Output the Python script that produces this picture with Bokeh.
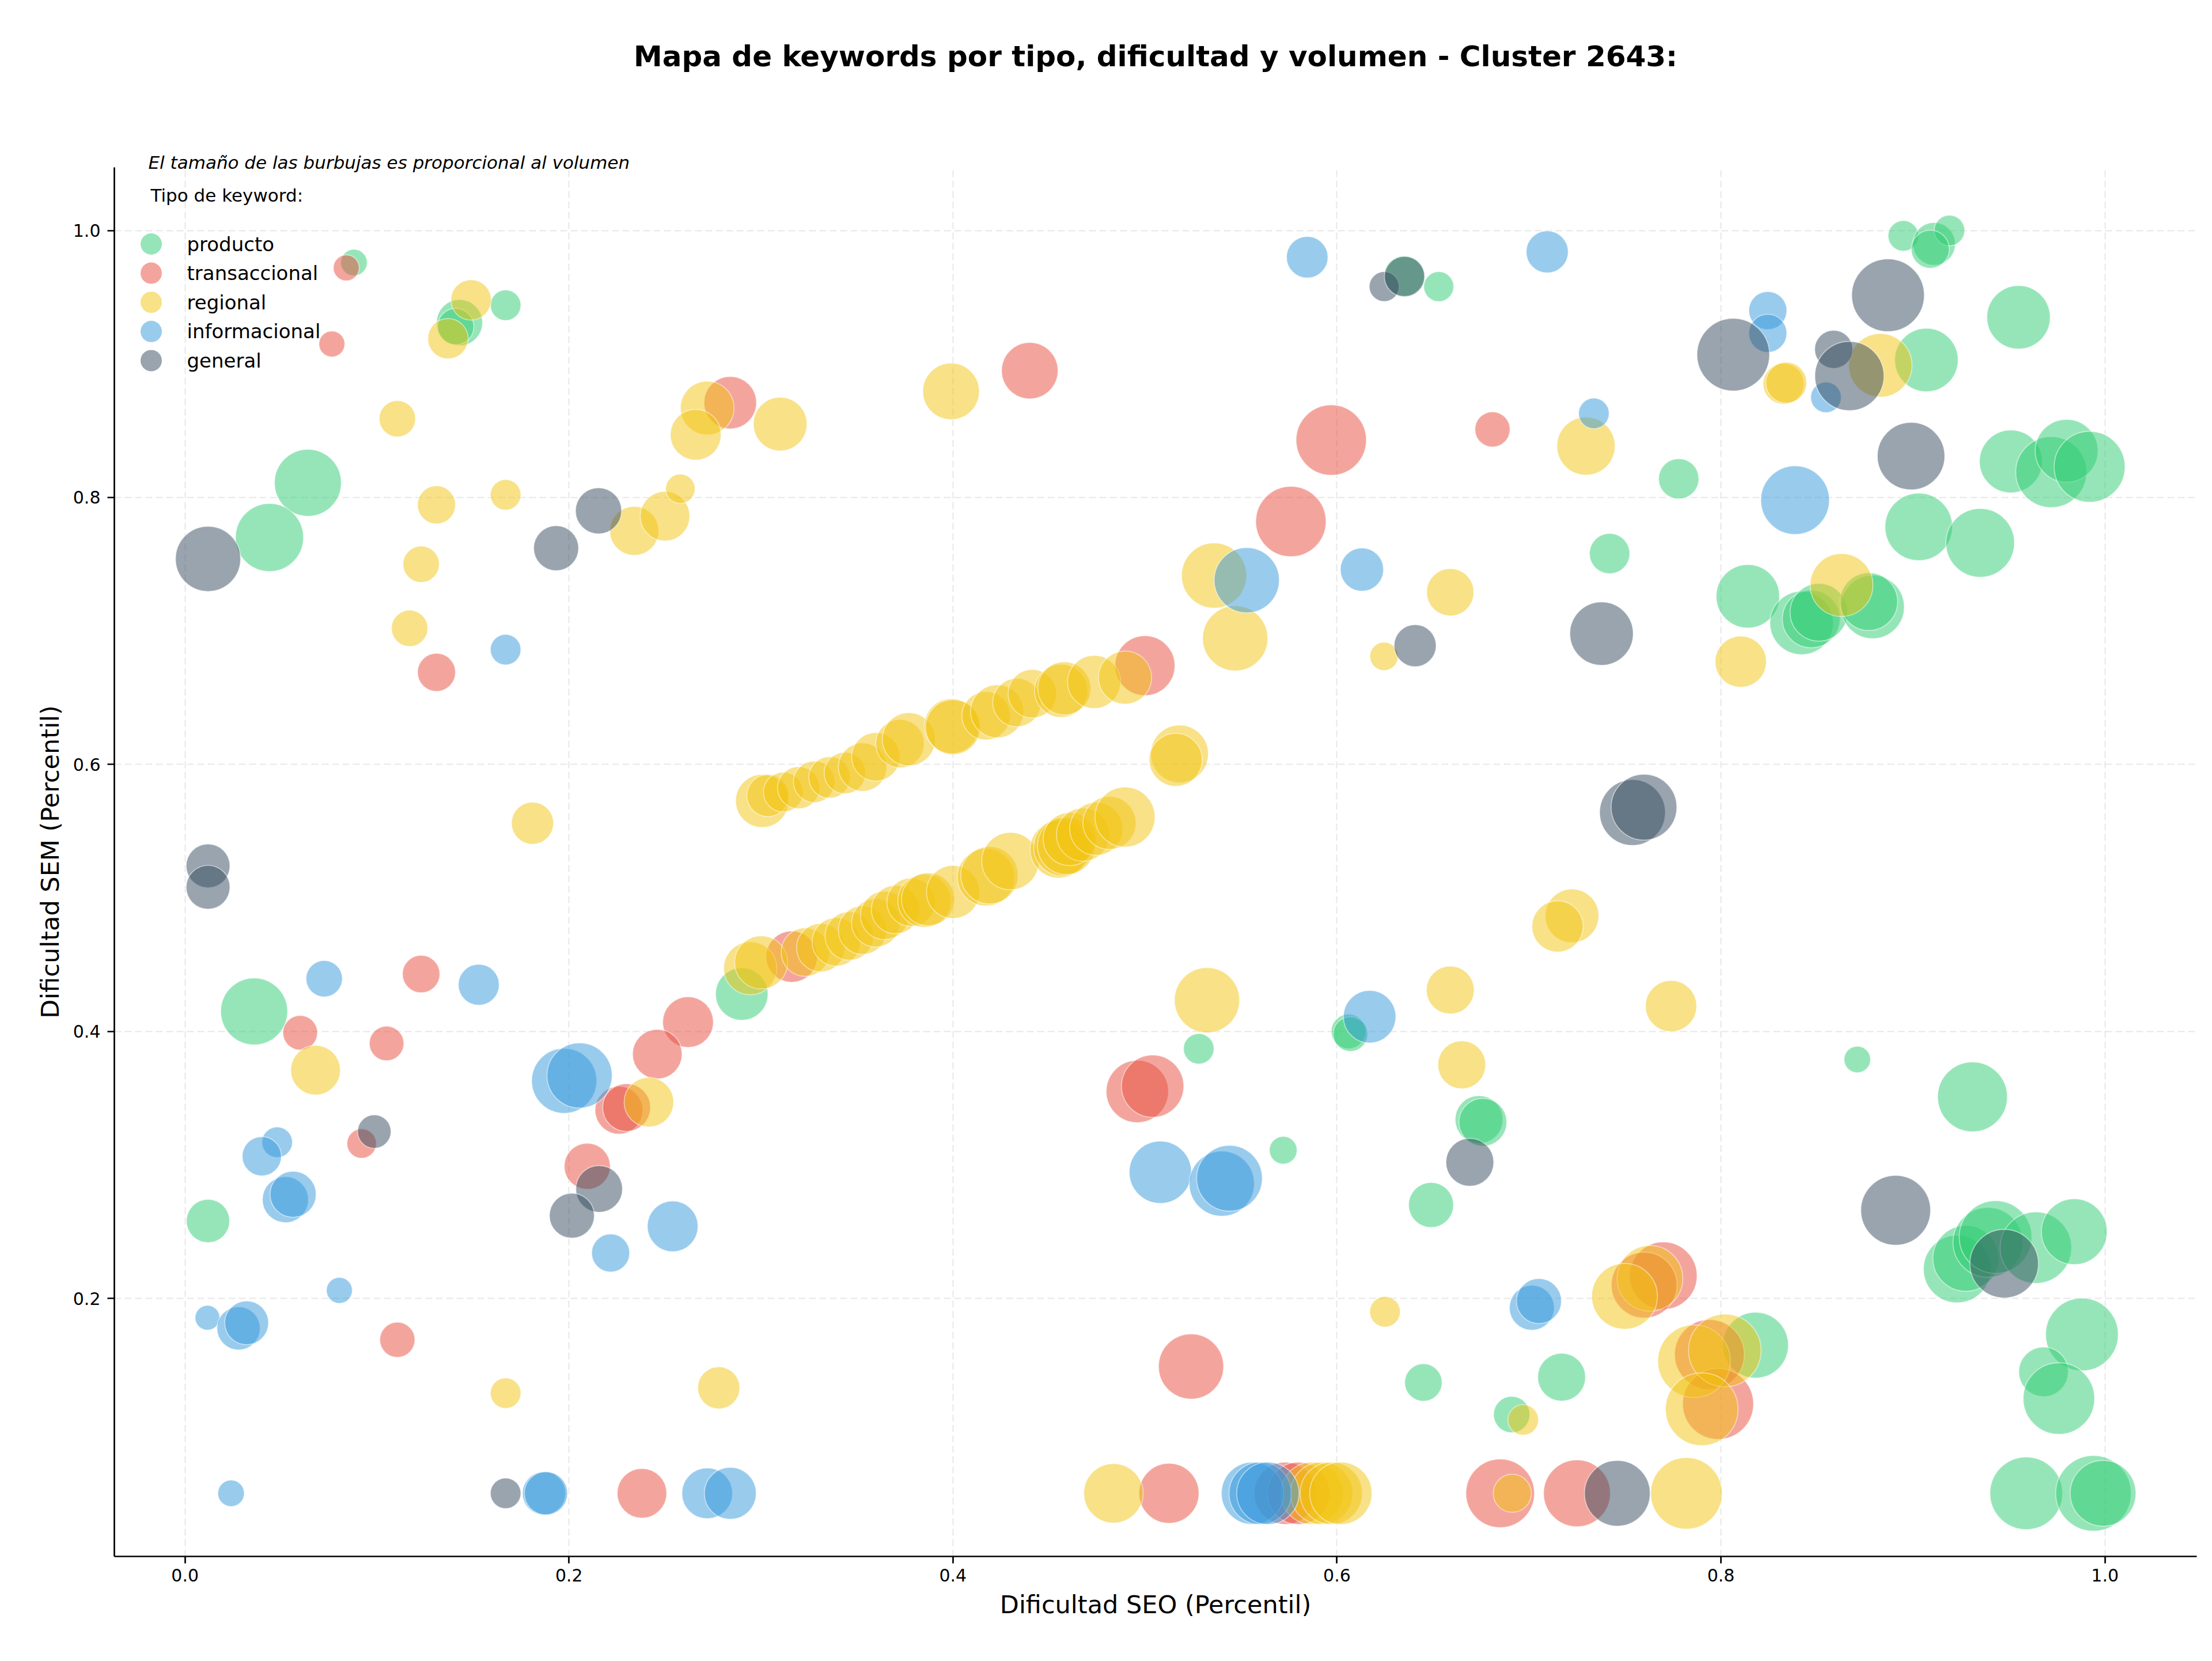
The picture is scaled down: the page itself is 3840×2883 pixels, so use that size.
import numpy as np
from bokeh.plotting import figure
from bokeh.models import Range1d, FixedTicker, PrintfTickFormatter, Label, Title
from bokeh.embed import file_html
from bokeh.resources import INLINE

# (dificultad SEO, dificultad SEM, volumen) per keyword type
producto = [
    (0.088, 0.976, 235), (0.167, 0.944, 312), (0.143, 0.931, 711), (0.141, 0.928, 441),
    (0.064, 0.811, 1495), (0.044, 0.770, 1547), (0.036, 0.415, 1495), (0.012, 0.258, 625),
    (0.290, 0.428, 920), (0.528, 0.387, 312), (0.572, 0.311, 256), (0.606, 0.400, 400),
    (0.607, 0.398, 400), (0.674, 0.334, 765), (0.676, 0.332, 765), (0.649, 0.270, 676),
    (0.645, 0.137, 469), (0.717, 0.141, 765), (0.691, 0.113, 441), (0.818, 0.165, 1444),
    (0.871, 0.379, 235), (0.931, 0.351, 1627), (0.923, 0.222, 1521), (0.9275, 0.230, 1444),
    (0.939, 0.242, 1627), (0.943, 0.246, 1764), (0.964, 0.238, 1708), (0.984, 0.250, 1444),
    (0.988, 0.173, 1764), (0.968, 0.145, 822), (0.976, 0.125, 1708), (0.959, 0.054, 1764),
    (0.994, 0.054, 1907), (0.999, 0.054, 1444), (0.895, 0.996, 312), (0.911, 0.990, 608),
    (0.919, 1.000, 312), (0.909, 0.986, 484), (0.955, 0.935, 1344), (0.907, 0.903, 1344),
    (0.778, 0.814, 544), (0.951, 0.827, 1320), (0.972, 0.819, 1681), (0.980, 0.835, 1320),
    (0.992, 0.823, 1681), (0.903, 0.778, 1521), (0.935, 0.766, 1573), (0.742, 0.758, 544),
    (0.814, 0.726, 1344), (0.842, 0.706, 1344), (0.847, 0.709, 1111), (0.851, 0.714, 1111),
    (0.879, 0.718, 1344), (0.877, 0.722, 1111), (0.653, 0.958, 300), (0.635, 0.966, 544),
]

transaccional = [
    (0.084, 0.972, 225), (0.0765, 0.915, 225), (0.284, 0.871, 920), (0.131, 0.669, 484),
    (0.440, 0.895, 1067), (0.597, 0.843, 1654), (0.576, 0.782, 1654), (0.681, 0.851, 413),
    (0.500, 0.674, 1202), (0.123, 0.443, 469), (0.060, 0.399, 400), (0.105, 0.391, 400),
    (0.262, 0.407, 860), (0.246, 0.383, 822), (0.226, 0.341, 765), (0.230, 0.343, 765),
    (0.092, 0.316, 289), (0.2095, 0.299, 711), (0.1106, 0.169, 413), (0.238, 0.054, 822),
    (0.316, 0.456, 880), (0.496, 0.355, 1296), (0.504, 0.359, 1296), (0.524, 0.149, 1419),
    (0.5125, 0.054, 1202), (0.573, 0.054, 1296), (0.580, 0.054, 1296), (0.685, 0.054, 1573),
    (0.725, 0.054, 1495), (0.770, 0.217, 1521), (0.760, 0.210, 1444), (0.794, 0.158, 1627),
    (0.7985, 0.121, 1681),
]

regional = [
    (0.149, 0.948, 544), (0.137, 0.919, 544), (0.1106, 0.859, 441), (0.131, 0.7945, 484),
    (0.167, 0.802, 312), (0.123, 0.750, 441), (0.117, 0.702, 441), (0.234, 0.775, 803),
    (0.250, 0.786, 822), (0.258, 0.8065, 289), (0.272, 0.867, 961), (0.266, 0.847, 860),
    (0.310, 0.855, 961), (0.399, 0.8795, 1067), (0.181, 0.556, 592), (0.068, 0.371, 822),
    (0.2416, 0.347, 822), (0.167, 0.129, 312), (0.278, 0.133, 592),
    (0.3006, 0.5727, 940), (0.3036, 0.5767, 592), (0.3116, 0.5793, 529), (0.3196, 0.5826, 592),
    (0.3277, 0.587, 576), (0.3357, 0.5903, 576), (0.3437, 0.5936, 576), (0.3529, 0.598, 784),
    (0.3598, 0.6057, 784), (0.3724, 0.6156, 784), (0.377, 0.6189, 940), (0.3993, 0.6288, 1003),
    (0.400, 0.628, 1003), (0.4172, 0.6365, 784), (0.423, 0.6398, 940), (0.4333, 0.6464, 784),
    (0.4413, 0.653, 784), (0.4563, 0.6552, 940), (0.458, 0.657, 940), (0.4735, 0.6618, 940),
    (0.4896, 0.6651, 940), (0.518, 0.6079, 1111), (0.516, 0.6035, 940),
    (0.2944, 0.4473, 940), (0.3001, 0.4517, 940), (0.3231, 0.4594, 784), (0.3311, 0.4627, 784),
    (0.3392, 0.4671, 784), (0.346, 0.4715, 784), (0.3529, 0.4759, 784), (0.3598, 0.4814, 784),
    (0.3644, 0.4869, 784), (0.3701, 0.4913, 784), (0.3782, 0.4968, 784), (0.3851, 0.4979, 940),
    (0.387, 0.499, 940), (0.400, 0.5045, 940), (0.4172, 0.5155, 1100), (0.419, 0.517, 1100),
    (0.4299, 0.5276, 1100), (0.4551, 0.5364, 1100), (0.457, 0.538, 1100), (0.459, 0.539, 1100),
    (0.4608, 0.5441, 940), (0.4677, 0.5474, 940), (0.4746, 0.5518, 940), (0.4815, 0.5562, 940),
    (0.4896, 0.5606, 1202),
    (0.536, 0.7415, 1419), (0.547, 0.6945, 1419), (0.5323, 0.4234, 1419), (0.659, 0.729, 747),
    (0.6245, 0.681, 267), (0.659, 0.431, 765), (0.665, 0.375, 765), (0.625, 0.190, 312),
    (0.697, 0.109, 312), (0.4836, 0.054, 1179), (0.587, 0.054, 1296), (0.592, 0.054, 1296),
    (0.597, 0.054, 1296), (0.602, 0.054, 1296), (0.6913, 0.054, 484), (0.782, 0.054, 1708),
    (0.7224, 0.4866, 961), (0.7149, 0.4787, 880), (0.774, 0.419, 880), (0.763, 0.215, 1444),
    (0.7498, 0.2016, 1444), (0.786, 0.153, 1764), (0.802, 0.161, 1764), (0.790, 0.117, 1764),
    (0.7297, 0.8385, 1133), (0.8326, 0.8852, 560), (0.834, 0.886, 560), (0.883, 0.899, 1344),
    (0.8103, 0.677, 880), (0.8628, 0.7344, 1320),
]

informacional = [
    (0.5845, 0.980, 576), (0.7095, 0.984, 592), (0.167, 0.686, 312), (0.553, 0.738, 1419),
    (0.613, 0.746, 625), (0.8244, 0.940, 484), (0.8244, 0.923, 484), (0.8547, 0.875, 312),
    (0.7338, 0.863, 312), (0.8386, 0.798, 1573), (0.0725, 0.4395, 441), (0.153, 0.435, 560),
    (0.1975, 0.363, 1419), (0.2055, 0.367, 1419), (0.048, 0.317, 312), (0.040, 0.3065, 514),
    (0.0523, 0.274, 711), (0.0563, 0.278, 711), (0.254, 0.254, 860), (0.2217, 0.234, 484),
    (0.0804, 0.206, 225), (0.0117, 0.1855, 205), (0.0279, 0.1776, 625), (0.0321, 0.1817, 642),
    (0.024, 0.054, 235), (0.187, 0.054, 625), (0.188, 0.054, 625), (0.272, 0.054, 860),
    (0.284, 0.054, 900), (0.508, 0.2945, 1296), (0.540, 0.286, 1419), (0.544, 0.290, 1444),
    (0.617, 0.411, 920), (0.7015, 0.193, 676), (0.7052, 0.198, 676), (0.556, 0.054, 1296),
    (0.560, 0.054, 1296), (0.564, 0.054, 1296),
]

general = [
    (0.012, 0.754, 1419), (0.1933, 0.762, 676), (0.2154, 0.790, 711), (0.012, 0.524, 642),
    (0.012, 0.508, 642), (0.0986, 0.325, 374), (0.2157, 0.282, 729), (0.2015, 0.262, 676),
    (0.167, 0.054, 312), (0.6246, 0.958, 300), (0.6352, 0.9655, 544), (0.6407, 0.689, 592),
    (0.887, 0.9515, 1764), (0.8064, 0.907, 1764), (0.8587, 0.911, 484), (0.8669, 0.891, 1600),
    (0.899, 0.831, 1521), (0.7378, 0.698, 1344), (0.7539, 0.564, 1444), (0.7599, 0.568, 1444),
    (0.6692, 0.302, 765), (0.891, 0.266, 1627), (0.9475, 0.226, 1573), (0.746, 0.054, 1444),
]

tipos = ["producto", "transaccional", "regional", "informacional", "general"]
colores = ["#2ecc71", "#e74c3c", "#f1c40f", "#3498db", "#34495e"]
series = [producto, transaccional, regional, informacional, general]

x_ticks = [0.0, 0.2, 0.4, 0.6, 0.8, 1.0]
y_ticks = [0.2, 0.4, 0.6, 0.8, 1.0]

FONT = "DejaVu Sans"
W, H = 3840, 2883
BL, BR, BT, BB = 198, 27, 290, 182
X0, X1 = -0.0368, 1.0478
Y0, Y1 = 0.0067, 1.0473

p = figure(width=W, height=H, output_backend="svg", toolbar_location=None, title=None,
           x_range=Range1d(X0, X1), y_range=Range1d(Y0, Y1),
           min_border_left=BL, min_border_right=BR,
           min_border_top=BT, min_border_bottom=BB)
p.outline_line_color = None
p.background_fill_color = "white"
p.border_fill_color = "white"

fw = W - BL - BR
fh = H - BT - BB


def fx(px):
    return X0 + (px - BL) / fw * (X1 - X0)


def fy(py):
    return Y1 - (py - BT) / fh * (Y1 - Y0)


# grid
p.grid.grid_line_color = "#b0b0b0"
p.grid.grid_line_alpha = 0.3
p.grid.grid_line_dash = "12 6"
p.grid.grid_line_width = 2

# axes
p.xaxis.ticker = FixedTicker(ticks=x_ticks)
p.yaxis.ticker = FixedTicker(ticks=y_ticks)
p.axis.formatter = PrintfTickFormatter(format="%.1f")
p.axis.minor_tick_line_color = None
p.axis.major_tick_out = 12
p.axis.major_tick_in = 0
p.axis.axis_line_width = 2.7
p.axis.major_tick_line_width = 2.7
p.axis.axis_line_color = "black"
p.axis.major_tick_line_color = "black"
p.axis.major_label_text_font = FONT
p.axis.major_label_text_font_size = "30px"
p.axis.major_label_text_color = "black"
p.axis.axis_label_text_font = FONT
p.axis.axis_label_text_font_size = "43px"
p.axis.axis_label_text_font_style = "normal"
p.axis.axis_label_text_color = "black"
p.xaxis.axis_label = "Dificultad SEO (Percentil)"
p.yaxis.axis_label = "Dificultad SEM (Percentil)"
p.xaxis.major_label_standoff = 9
p.xaxis.axis_label_standoff = 12
p.yaxis.major_label_standoff = 12
p.yaxis.axis_label_standoff = 12

# bubbles: area proportional to volume
for datos, color in zip(series, colores):
    seo = [d[0] for d in datos]
    sem = [d[1] for d in datos]
    vol = np.array([d[2] for d in datos], dtype=float)
    p.scatter(seo, sem, size=3.0 * np.sqrt(vol), marker="circle",
              fill_color=color, fill_alpha=0.5,
              line_color="white", line_alpha=0.5, line_width=1.7)

# note on bubble size, just above the frame
p.add_layout(Title(text="El tamaño de las burbujas es proporcional al volumen",
                   align="left", offset=59, standoff=-19, vertical_align="bottom",
                   text_font=FONT, text_font_size="31px", text_font_style="italic",
                   text_color="black"), "above")

# empty band between the note and the main title
p.add_layout(Title(text=" ", standoff=132, text_font=FONT, text_font_size="10px"), "above")

# main title
p.add_layout(Title(text="Mapa de keywords por tipo, dificultad y volumen - Cluster 2643:",
                   align="center", standoff=0, vertical_align="bottom",
                   text_font=FONT, text_font_size="50px", text_font_style="bold",
                   text_color="black"), "above")

# legend
p.add_layout(Label(x=fx(261), y=fy(338), text="Tipo de keyword:",
                   text_align="left", text_baseline="alphabetic",
                   text_font=FONT, text_font_size="31px", text_color="black"))
row_px = [423 + 50.6 * i for i in range(len(tipos))]
p.scatter([fx(262)] * len(tipos), [fy(r) for r in row_px], size=37, marker="circle",
          fill_color=colores, fill_alpha=0.5, line_color=None)
for nombre, r in zip(tipos, row_px):
    p.add_layout(Label(x=fx(324), y=fy(r), text=nombre,
                       text_align="left", text_baseline="middle",
                       text_font=FONT, text_font_size="34px", text_color="black"))

open("out.html", "w").write(file_html(p, INLINE))
